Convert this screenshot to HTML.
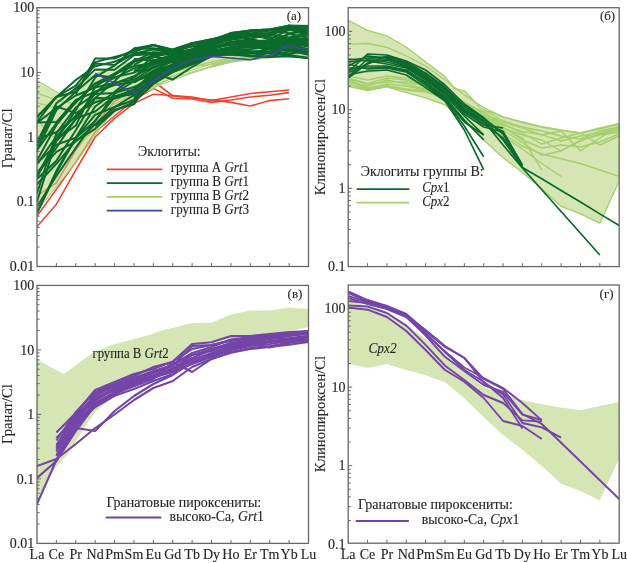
<!DOCTYPE html>
<html><head><meta charset="utf-8"><style>
html,body{margin:0;padding:0;background:#fff;width:627px;height:563px;overflow:hidden}
svg{display:block}
text{font-family:"Liberation Serif",serif;font-size:14px;fill:#262626;stroke:#262626;stroke-width:0.12px}
svg{will-change:transform}
.i{font-style:italic}
</style></head><body>
<svg width="627" height="563" viewBox="0 0 627 563">
<defs>
<clipPath id="ca"><rect x="37.0" y="7.7" width="271.5" height="258.8"/></clipPath>
<clipPath id="cb"><rect x="348.2" y="7.7" width="271.00000000000006" height="258.90000000000003"/></clipPath>
<clipPath id="cc"><rect x="37.0" y="285.4" width="271.5" height="258.0"/></clipPath>
<clipPath id="cd"><rect x="348.2" y="285.0" width="271.00000000000006" height="258.20000000000005"/></clipPath>
</defs>
<polygon points="348.2,20.4 367.6,30.3 386.9,35.8 406.3,47.3 425.6,61.7 445.0,76.5 454.4,88.3 464.3,90.8 480.4,107.7 483.7,109.5 503.1,116.8 522.4,122.7 541.8,127.0 561.1,130.3 580.5,133.0 599.8,128.8 619.2,124.7 619.2,181.3 599.8,223.2 580.5,213.8 561.1,206.4 541.8,188.7 522.4,172.5 503.1,157.7 483.7,140.0 464.3,121.0 445.0,104.9 425.6,97.9 406.3,92.6 386.9,86.8 367.6,90.6 348.2,86.4" fill="#d5e5b3" stroke="#a6cf6e" stroke-width="1.3" stroke-linejoin="round" clip-path="url(#cb)"/>
<polyline points="348.2,44.4 367.6,43.5 386.9,47.3 406.3,55.9 425.6,66.0 445.0,80.0 464.3,95.0 483.7,107.6 503.1,117.0 522.4,122.0 541.8,126.7 561.1,130.0 580.5,133.0 599.8,128.0 619.2,123.5" fill="none" stroke="#a6cf6e" stroke-width="1.4" stroke-linejoin="round" clip-path="url(#cb)"/>
<polyline points="348.2,78.0 367.6,83.7 386.9,78.0 406.3,80.0 425.6,85.0 445.0,92.0 464.3,103.0 483.7,112.0 503.1,125.0 522.4,131.5 541.8,134.7 561.1,141.0 580.5,136.0 599.8,133.0 619.2,128.0" fill="none" stroke="#a6cf6e" stroke-width="1.4" stroke-linejoin="round" clip-path="url(#cb)"/>
<polyline points="348.2,80.0 367.6,88.0 386.9,84.0 406.3,86.0 425.6,90.0 445.0,96.0 464.3,106.0 483.7,118.0 503.1,130.0 522.4,142.7 541.8,155.5 561.1,150.7 580.5,141.0 599.8,134.0 619.2,130.0" fill="none" stroke="#a6cf6e" stroke-width="1.4" stroke-linejoin="round" clip-path="url(#cb)"/>
<polyline points="348.2,82.0 367.6,86.0 386.9,80.0 406.3,84.0 425.6,89.0 445.0,97.0 464.3,108.0 483.7,121.0 503.1,134.0 522.4,146.0 541.8,154.0 561.1,158.7 580.5,163.5 599.8,170.0 619.2,176.3" fill="none" stroke="#a6cf6e" stroke-width="1.4" stroke-linejoin="round" clip-path="url(#cb)"/>
<polyline points="348.2,84.0 367.6,90.0 386.9,86.0 406.3,90.0 425.6,92.0 445.0,98.0 464.3,110.0 483.7,124.0 503.1,136.0 522.4,149.0 541.8,163.5 561.1,176.3" fill="none" stroke="#a6cf6e" stroke-width="1.4" stroke-linejoin="round" clip-path="url(#cb)"/>
<polyline points="348.2,79.0 367.6,84.0 386.9,82.0 406.3,82.0 425.6,86.0 445.0,93.0 464.3,104.0 483.7,117.0 503.1,128.0 522.4,138.0 541.8,170.0" fill="none" stroke="#a6cf6e" stroke-width="1.4" stroke-linejoin="round" clip-path="url(#cb)"/>
<polyline points="348.2,81.0 367.6,89.0 386.9,86.0 406.3,89.0 425.6,91.0 445.0,99.0 464.3,112.0 483.7,120.0 503.1,128.0 522.4,135.0 541.8,140.0 561.1,151.0 580.5,140.0 599.8,135.0 619.2,132.0" fill="none" stroke="#a6cf6e" stroke-width="1.4" stroke-linejoin="round" clip-path="url(#cb)"/>
<polyline points="348.2,70.0 367.6,72.0 386.9,70.0 406.3,72.0 425.6,80.0 445.0,90.0 464.3,102.0 483.7,114.0 503.1,122.0 522.4,128.0 541.8,135.0 561.1,131.0 580.5,150.7 599.8,138.0 619.2,126.0" fill="none" stroke="#a6cf6e" stroke-width="1.4" stroke-linejoin="round" clip-path="url(#cb)"/>
<polyline points="348.2,76.0 367.6,80.0 386.9,76.0 406.3,78.0 425.6,84.0 445.0,92.0 464.3,104.0 483.7,116.0 503.1,124.0 522.4,133.0 541.8,144.0 561.1,138.0 580.5,133.0 599.8,145.0 619.2,136.0" fill="none" stroke="#a6cf6e" stroke-width="1.4" stroke-linejoin="round" clip-path="url(#cb)"/>
<polyline points="483.7,115.0 503.1,127.0 522.4,140.0 541.8,148.0 561.1,145.0 580.5,147.0 599.8,142.0 619.2,134.0" fill="none" stroke="#a6cf6e" stroke-width="1.4" stroke-linejoin="round" clip-path="url(#cb)"/>
<polyline points="483.7,110.0 503.1,121.0 522.4,127.0 541.8,131.0 561.1,136.0 580.5,139.0 599.8,131.0 619.2,127.0" fill="none" stroke="#a6cf6e" stroke-width="1.4" stroke-linejoin="round" clip-path="url(#cb)"/>
<polyline points="348.2,72.0 367.6,54.0 386.9,55.0 406.3,61.0 425.6,70.0 445.0,85.0 464.3,104.0 483.7,117.8 503.1,134.0 522.4,167.5 541.8,178.7 561.1,190.4 580.5,202.0 599.8,213.9 619.2,225.6" fill="none" stroke="#0b6a2c" stroke-width="1.7" stroke-linejoin="round" clip-path="url(#cb)"/>
<polyline points="348.2,60.0 367.6,58.0 386.9,57.0 406.3,63.0 425.6,74.0 445.0,88.0 464.3,108.0 483.7,121.0 503.1,145.0 522.4,168.0 541.8,189.7 561.1,211.5 580.5,233.2 599.8,255.0" fill="none" stroke="#0b6a2c" stroke-width="1.7" stroke-linejoin="round" clip-path="url(#cb)"/>
<polyline points="348.2,78.0 367.6,63.0 386.9,60.0 406.3,66.0 425.6,78.0 445.0,92.0 464.3,112.0 483.7,124.0 503.1,138.0 522.4,166.0" fill="none" stroke="#0b6a2c" stroke-width="1.7" stroke-linejoin="round" clip-path="url(#cb)"/>
<polyline points="348.2,66.0 367.6,56.0 386.9,58.0 406.3,64.0 425.6,76.0 445.0,90.0 464.3,110.0 483.7,122.0 503.1,131.5 522.4,165.0" fill="none" stroke="#0b6a2c" stroke-width="1.7" stroke-linejoin="round" clip-path="url(#cb)"/>
<polyline points="348.2,59.0 367.6,61.0 386.9,64.0 406.3,68.0 425.6,80.0 445.0,95.0 464.3,116.0 483.7,134.8" fill="none" stroke="#0b6a2c" stroke-width="1.7" stroke-linejoin="round" clip-path="url(#cb)"/>
<polyline points="348.2,70.0 367.6,66.0 386.9,66.0 406.3,70.0 425.6,83.0 445.0,97.0 464.3,120.0 483.7,139.8" fill="none" stroke="#0b6a2c" stroke-width="1.7" stroke-linejoin="round" clip-path="url(#cb)"/>
<polyline points="348.2,64.0 367.6,69.0 386.9,68.0 406.3,72.0 425.6,85.0 445.0,100.0 464.3,126.0 483.7,156.8" fill="none" stroke="#0b6a2c" stroke-width="1.7" stroke-linejoin="round" clip-path="url(#cb)"/>
<polyline points="348.2,75.0 367.6,71.0 386.9,70.0 406.3,75.0 425.6,87.5 445.0,101.0 464.3,130.0 483.7,169.6" fill="none" stroke="#0b6a2c" stroke-width="1.7" stroke-linejoin="round" clip-path="url(#cb)"/>
<polyline points="348.2,62.0 367.6,60.0 386.9,62.0 406.3,67.0 425.6,79.0 445.0,93.0 464.3,114.0 483.7,127.0 503.1,132.0" fill="none" stroke="#0b6a2c" stroke-width="1.7" stroke-linejoin="round" clip-path="url(#cb)"/>
<polyline points="348.2,77.0 367.6,59.0 386.9,59.0 406.3,65.0 425.6,77.0 445.0,89.0 464.3,111.0 483.7,125.0 503.1,128.0" fill="none" stroke="#0b6a2c" stroke-width="1.7" stroke-linejoin="round" clip-path="url(#cb)"/>
<polyline points="348.2,68.0 367.6,68.0 386.9,67.0 406.3,71.0 425.6,82.0 445.0,99.0 464.3,122.0 483.7,135.0" fill="none" stroke="#0b6a2c" stroke-width="1.7" stroke-linejoin="round" clip-path="url(#cb)"/>
<polyline points="348.2,73.0 367.6,64.0 386.9,56.0 406.3,62.0 425.6,73.0 445.0,87.0 464.3,106.0 483.7,119.0 503.1,140.0 522.4,167.0" fill="none" stroke="#0b6a2c" stroke-width="1.7" stroke-linejoin="round" clip-path="url(#cb)"/>
<polyline points="37.0,226.6 56.4,204.2 75.8,170.0 95.2,137.0 114.6,118.3 134.0,103.4 153.4,94.3 172.8,95.5 192.1,97.0 211.5,100.6 230.9,97.0 250.3,93.5 269.7,91.7 289.1,90.0" fill="none" stroke="#ef4530" stroke-width="1.6" stroke-linejoin="round" clip-path="url(#ca)"/>
<polyline points="37.0,216.0 56.4,189.3 75.8,162.0 95.2,132.0 114.6,116.0 134.0,100.0 153.4,88.4 172.8,98.2 192.1,99.0 211.5,102.4 230.9,100.0 250.3,97.0 269.7,95.3 289.1,92.6" fill="none" stroke="#ef4530" stroke-width="1.6" stroke-linejoin="round" clip-path="url(#ca)"/>
<polyline points="37.0,195.7 56.4,182.9 75.8,150.0 95.2,124.0 114.6,101.4 134.0,90.0 153.4,81.0 172.8,96.0 192.1,98.0 211.5,100.0 230.9,102.4 250.3,106.0 269.7,100.6 289.1,98.8" fill="none" stroke="#ef4530" stroke-width="1.6" stroke-linejoin="round" clip-path="url(#ca)"/>
<polygon points="37.0,80.2 64.0,96.3 84.0,81.3 95.2,73.8 112.6,67.0 150.0,57.0 160.0,53.3 192.1,45.3 211.5,45.0 230.9,36.8 250.3,32.7 269.7,32.7 289.1,29.7 308.5,31.3 308.5,56.0 289.1,55.0 269.7,58.0 250.3,60.0 230.9,62.0 211.5,64.4 192.1,67.0 172.8,77.0 153.4,88.0 134.0,98.0 110.0,115.0 95.2,135.6 82.8,153.0 75.8,163.0 56.4,186.5 37.0,211.5" fill="#b9d480" fill-opacity="0.6" stroke="#a6cf6e" stroke-width="1.0" clip-path="url(#ca)"/>
<polyline points="37.0,93.0 56.4,100.0 75.8,104.0 95.2,100.0 114.6,95.0 134.0,88.0 153.4,80.0 172.8,72.0 192.1,67.0 211.5,62.0 230.9,58.0 250.3,52.0 269.7,50.0 289.1,48.0 308.5,47.0" fill="none" stroke="#a6cf6e" stroke-width="1.3" stroke-linejoin="round" clip-path="url(#ca)"/>
<polyline points="37.0,102.8 56.4,108.0 75.8,110.0 95.2,106.0 114.6,98.0 134.0,90.0 153.4,82.0 172.8,76.0 192.1,70.0 211.5,64.0 230.9,60.0 250.3,56.0 269.7,54.0 289.1,50.0 308.5,52.0" fill="none" stroke="#a6cf6e" stroke-width="1.3" stroke-linejoin="round" clip-path="url(#ca)"/>
<polyline points="37.0,112.0 56.4,122.0 75.8,126.0 95.2,114.0 114.6,104.0 134.0,94.0 153.4,86.0 172.8,78.0 192.1,72.0 211.5,66.0 230.9,61.0 250.3,57.0 269.7,55.0 289.1,52.0 308.5,50.0" fill="none" stroke="#a6cf6e" stroke-width="1.3" stroke-linejoin="round" clip-path="url(#ca)"/>
<polyline points="37.0,120.0 56.4,140.0 75.8,148.0 95.2,128.0 114.6,112.0 134.0,98.0 153.4,88.0 172.8,80.0 192.1,73.0 211.5,67.0 230.9,62.0 250.3,58.0 269.7,56.0 289.1,54.0 308.5,53.0" fill="none" stroke="#a6cf6e" stroke-width="1.3" stroke-linejoin="round" clip-path="url(#ca)"/>
<polyline points="37.0,175.8 56.4,140.1 75.8,109.9 95.2,77.4 114.6,65.3 134.0,48.5 153.4,45.0 172.8,50.3 192.1,43.5 211.5,40.8 230.9,33.1 250.3,30.4 269.7,29.5 289.1,25.5 308.5,25.9" fill="none" stroke="#0b6a2c" stroke-width="2.0" stroke-linejoin="round" clip-path="url(#ca)"/>
<polyline points="37.0,117.0 56.4,97.0 75.8,85.6 95.2,62.1 114.6,57.0 134.0,51.9 153.4,45.0 172.8,49.4 192.1,43.0 211.5,39.3 230.9,35.7 250.3,30.4 269.7,29.5 289.1,30.2 308.5,29.8" fill="none" stroke="#0b6a2c" stroke-width="2.0" stroke-linejoin="round" clip-path="url(#ca)"/>
<polyline points="37.0,150.4 56.4,110.0 75.8,91.8 95.2,63.6 114.6,65.0 134.0,53.6 153.4,52.6 172.8,52.2 192.1,43.4 211.5,39.9 230.9,33.1 250.3,30.4 269.7,29.5 289.1,26.1 308.5,29.0" fill="none" stroke="#0b6a2c" stroke-width="2.0" stroke-linejoin="round" clip-path="url(#ca)"/>
<polyline points="37.0,121.9 56.4,97.0 75.8,80.0 95.2,66.3 114.6,61.7 134.0,53.6 153.4,49.4 172.8,52.1 192.1,43.0 211.5,43.6 230.9,33.1 250.3,35.1 269.7,35.2 289.1,25.5 308.5,32.0" fill="none" stroke="#0b6a2c" stroke-width="2.0" stroke-linejoin="round" clip-path="url(#ca)"/>
<polyline points="37.0,142.6 56.4,103.3 75.8,88.4 95.2,69.4 114.6,69.8 134.0,55.2 153.4,53.9 172.8,54.6 192.1,48.9 211.5,41.5 230.9,35.8 250.3,34.8 269.7,35.9 289.1,27.4 308.5,33.1" fill="none" stroke="#0b6a2c" stroke-width="2.0" stroke-linejoin="round" clip-path="url(#ca)"/>
<polyline points="37.0,201.6 56.4,139.6 75.8,125.5 95.2,86.6 114.6,73.8 134.0,60.3 153.4,57.3 172.8,52.0 192.1,49.8 211.5,43.2 230.9,36.5 250.3,34.5 269.7,32.9 289.1,28.5 308.5,29.5" fill="none" stroke="#0b6a2c" stroke-width="2.0" stroke-linejoin="round" clip-path="url(#ca)"/>
<polyline points="37.0,193.4 56.4,133.2 75.8,107.5 95.2,93.7 114.6,75.3 134.0,61.4 153.4,52.2 172.8,54.6 192.1,50.2 211.5,43.6 230.9,38.0 250.3,33.9 269.7,39.4 289.1,29.5 308.5,33.9" fill="none" stroke="#0b6a2c" stroke-width="2.0" stroke-linejoin="round" clip-path="url(#ca)"/>
<polyline points="37.0,178.9 56.4,160.8 75.8,130.2 95.2,98.0 114.6,81.3 134.0,61.9 153.4,55.9 172.8,53.0 192.1,51.3 211.5,43.6 230.9,39.2 250.3,41.4 269.7,40.2 289.1,38.4 308.5,35.0" fill="none" stroke="#0b6a2c" stroke-width="2.0" stroke-linejoin="round" clip-path="url(#ca)"/>
<polyline points="37.0,160.5 56.4,124.9 75.8,101.9 95.2,83.3 114.6,73.7 134.0,66.0 153.4,63.3 172.8,59.1 192.1,51.0 211.5,45.4 230.9,39.5 250.3,36.5 269.7,37.3 289.1,38.3 308.5,39.9" fill="none" stroke="#0b6a2c" stroke-width="2.0" stroke-linejoin="round" clip-path="url(#ca)"/>
<polyline points="37.0,150.1 56.4,123.1 75.8,102.5 95.2,83.7 114.6,78.1 134.0,68.4 153.4,62.2 172.8,55.9 192.1,51.2 211.5,47.4 230.9,42.4 250.3,39.0 269.7,43.3 289.1,38.6 308.5,39.0" fill="none" stroke="#0b6a2c" stroke-width="2.0" stroke-linejoin="round" clip-path="url(#ca)"/>
<polyline points="37.0,117.1 56.4,97.0 75.8,91.7 95.2,75.2 114.6,77.4 134.0,72.6 153.4,64.9 172.8,57.4 192.1,53.1 211.5,48.0 230.9,44.1 250.3,40.6 269.7,43.8 289.1,41.7 308.5,41.3" fill="none" stroke="#0b6a2c" stroke-width="2.0" stroke-linejoin="round" clip-path="url(#ca)"/>
<polyline points="37.0,213.0 56.4,170.8 75.8,137.5 95.2,106.5 114.6,91.7 134.0,76.9 153.4,63.4 172.8,60.7 192.1,54.4 211.5,48.8 230.9,41.5 250.3,44.6 269.7,43.2 289.1,41.5 308.5,40.5" fill="none" stroke="#0b6a2c" stroke-width="2.0" stroke-linejoin="round" clip-path="url(#ca)"/>
<polyline points="37.0,177.2 56.4,141.1 75.8,119.4 95.2,91.6 114.6,83.4 134.0,76.1 153.4,66.9 172.8,58.8 192.1,55.2 211.5,49.2 230.9,41.7 250.3,43.7 269.7,41.9 289.1,38.0 308.5,39.6" fill="none" stroke="#0b6a2c" stroke-width="2.0" stroke-linejoin="round" clip-path="url(#ca)"/>
<polyline points="37.0,122.9 56.4,108.0 75.8,95.5 95.2,87.5 114.6,82.8 134.0,79.6 153.4,68.0 172.8,60.0 192.1,57.4 211.5,47.0 230.9,44.7 250.3,43.6 269.7,44.5 289.1,39.8 308.5,46.8" fill="none" stroke="#0b6a2c" stroke-width="2.0" stroke-linejoin="round" clip-path="url(#ca)"/>
<polyline points="37.0,122.4 56.4,122.1 75.8,99.9 95.2,92.0 114.6,85.1 134.0,81.8 153.4,73.5 172.8,64.7 192.1,55.7 211.5,51.6 230.9,46.9 250.3,45.3 269.7,43.8 289.1,45.1 308.5,46.1" fill="none" stroke="#0b6a2c" stroke-width="2.0" stroke-linejoin="round" clip-path="url(#ca)"/>
<polyline points="37.0,213.0 56.4,172.6 75.8,138.0 95.2,121.0 114.6,93.5 134.0,81.2 153.4,71.3 172.8,64.5 192.1,55.1 211.5,51.5 230.9,49.3 250.3,46.5 269.7,47.1 289.1,43.5 308.5,45.2" fill="none" stroke="#0b6a2c" stroke-width="2.0" stroke-linejoin="round" clip-path="url(#ca)"/>
<polyline points="37.0,206.5 56.4,176.0 75.8,147.9 95.2,120.3 114.6,97.4 134.0,89.2 153.4,72.4 172.8,64.3 192.1,57.0 211.5,54.0 230.9,48.0 250.3,47.1 269.7,48.7 289.1,44.0 308.5,49.4" fill="none" stroke="#0b6a2c" stroke-width="2.0" stroke-linejoin="round" clip-path="url(#ca)"/>
<polyline points="37.0,139.1 56.4,132.2 75.8,116.6 95.2,93.9 114.6,93.0 134.0,87.0 153.4,78.6 172.8,67.7 192.1,57.6 211.5,51.5 230.9,47.1 250.3,53.0 269.7,48.6 289.1,49.3 308.5,49.7" fill="none" stroke="#0b6a2c" stroke-width="2.0" stroke-linejoin="round" clip-path="url(#ca)"/>
<polyline points="37.0,173.1 56.4,147.8 75.8,118.5 95.2,111.5 114.6,96.2 134.0,91.1 153.4,74.2 172.8,65.8 192.1,60.1 211.5,53.2 230.9,49.2 250.3,52.5 269.7,51.9 289.1,46.1 308.5,49.2" fill="none" stroke="#0b6a2c" stroke-width="2.0" stroke-linejoin="round" clip-path="url(#ca)"/>
<polyline points="37.0,164.3 56.4,136.4 75.8,115.4 95.2,98.0 114.6,98.6 134.0,92.8 153.4,78.4 172.8,69.4 192.1,61.7 211.5,54.0 230.9,53.2 250.3,51.2 269.7,51.8 289.1,54.0 308.5,50.2" fill="none" stroke="#0b6a2c" stroke-width="2.0" stroke-linejoin="round" clip-path="url(#ca)"/>
<polyline points="37.0,146.0 56.4,106.4 75.8,113.2 95.2,102.3 114.6,96.4 134.0,94.3 153.4,82.3 172.8,71.7 192.1,59.9 211.5,54.8 230.9,52.2 250.3,53.2 269.7,52.6 289.1,49.8 308.5,54.9" fill="none" stroke="#0b6a2c" stroke-width="2.0" stroke-linejoin="round" clip-path="url(#ca)"/>
<polyline points="37.0,173.1 56.4,151.9 75.8,141.4 95.2,124.3 114.6,107.0 134.0,95.1 153.4,83.4 172.8,72.0 192.1,64.4 211.5,56.6 230.9,50.4 250.3,56.2 269.7,53.0 289.1,55.1 308.5,58.0" fill="none" stroke="#0b6a2c" stroke-width="2.0" stroke-linejoin="round" clip-path="url(#ca)"/>
<polyline points="37.0,163.2 56.4,144.6 75.8,137.8 95.2,114.9 114.6,107.0 134.0,100.0 153.4,79.5 172.8,72.0 192.1,61.3 211.5,54.7 230.9,53.1 250.3,52.6 269.7,53.1 289.1,56.0 308.5,58.0" fill="none" stroke="#0b6a2c" stroke-width="2.0" stroke-linejoin="round" clip-path="url(#ca)"/>
<polyline points="37.0,184.3 56.4,163.8 75.8,140.7 95.2,128.8 114.6,110.8 134.0,102.0 153.4,83.4 172.8,69.6 192.1,64.4 211.5,55.7 230.9,54.4 250.3,56.2 269.7,57.0 289.1,56.2 308.5,58.0" fill="none" stroke="#0b6a2c" stroke-width="2.0" stroke-linejoin="round" clip-path="url(#ca)"/>
<polyline points="134.0,48.5 153.4,48.5 172.8,49.8 192.1,43.8 211.5,39.3 230.9,35.6 250.3,33.5 269.7,30.7 289.1,26.8 308.5,25.8" fill="none" stroke="#0b6a2c" stroke-width="2.0" stroke-linejoin="round" clip-path="url(#ca)"/>
<polyline points="134.0,48.5 153.4,48.6 172.8,51.5 192.1,43.3 211.5,42.9 230.9,34.3 250.3,31.8 269.7,29.7 289.1,33.3 308.5,31.8" fill="none" stroke="#0b6a2c" stroke-width="2.0" stroke-linejoin="round" clip-path="url(#ca)"/>
<polyline points="134.0,64.9 153.4,54.3 172.8,50.1 192.1,46.5 211.5,43.0 230.9,35.4 250.3,38.8 269.7,34.3 289.1,29.1 308.5,35.2" fill="none" stroke="#0b6a2c" stroke-width="2.0" stroke-linejoin="round" clip-path="url(#ca)"/>
<polyline points="134.0,58.9 153.4,60.7 172.8,54.7 192.1,49.5 211.5,43.7 230.9,39.2 250.3,35.8 269.7,34.2 289.1,37.4 308.5,33.0" fill="none" stroke="#0b6a2c" stroke-width="2.0" stroke-linejoin="round" clip-path="url(#ca)"/>
<polyline points="134.0,72.5 153.4,56.7 172.8,59.9 192.1,53.2 211.5,47.1 230.9,42.5 250.3,40.6 269.7,41.5 289.1,34.0 308.5,37.7" fill="none" stroke="#0b6a2c" stroke-width="2.0" stroke-linejoin="round" clip-path="url(#ca)"/>
<polyline points="134.0,77.6 153.4,59.8 172.8,61.6 192.1,55.0 211.5,47.0 230.9,42.1 250.3,41.9 269.7,41.3 289.1,43.5 308.5,39.6" fill="none" stroke="#0b6a2c" stroke-width="2.0" stroke-linejoin="round" clip-path="url(#ca)"/>
<polyline points="134.0,70.9 153.4,62.0 172.8,62.4 192.1,57.3 211.5,48.9 230.9,44.6 250.3,44.7 269.7,46.2 289.1,39.9 308.5,44.2" fill="none" stroke="#0b6a2c" stroke-width="2.0" stroke-linejoin="round" clip-path="url(#ca)"/>
<polyline points="134.0,82.7 153.4,70.6 172.8,61.0 192.1,54.5 211.5,49.7 230.9,48.8 250.3,45.5 269.7,47.4 289.1,43.1 308.5,42.6" fill="none" stroke="#0b6a2c" stroke-width="2.0" stroke-linejoin="round" clip-path="url(#ca)"/>
<polyline points="134.0,80.4 153.4,75.8 172.8,66.7 192.1,57.5 211.5,52.7 230.9,49.2 250.3,51.3 269.7,52.3 289.1,46.5 308.5,52.7" fill="none" stroke="#0b6a2c" stroke-width="2.0" stroke-linejoin="round" clip-path="url(#ca)"/>
<polyline points="134.0,97.3 153.4,76.8 172.8,69.4 192.1,59.9 211.5,52.7 230.9,48.6 250.3,53.3 269.7,48.9 289.1,46.4 308.5,53.8" fill="none" stroke="#0b6a2c" stroke-width="2.0" stroke-linejoin="round" clip-path="url(#ca)"/>
<polyline points="134.0,99.1 153.4,79.0 172.8,71.1 192.1,59.2 211.5,53.7 230.9,50.6 250.3,52.4 269.7,51.2 289.1,48.9 308.5,52.6" fill="none" stroke="#0b6a2c" stroke-width="2.0" stroke-linejoin="round" clip-path="url(#ca)"/>
<polyline points="134.0,102.0 153.4,84.0 172.8,72.0 192.1,63.4 211.5,55.1 230.9,54.4 250.3,55.3 269.7,57.0 289.1,51.2 308.5,54.2" fill="none" stroke="#0b6a2c" stroke-width="2.0" stroke-linejoin="round" clip-path="url(#ca)"/>
<polyline points="75.8,94.0 95.2,58.6 114.6,58.6 134.0,50.0 153.4,45.0 172.8,52.0 192.1,46.0 211.5,42.0 230.9,38.0 250.3,36.0 269.7,33.0 289.1,26.0 308.5,27.0" fill="none" stroke="#0b6a2c" stroke-width="2.0" stroke-linejoin="round" clip-path="url(#ca)"/>
<polyline points="95.2,126.0 114.6,109.8 134.0,104.4 153.4,73.0 172.8,79.5 192.1,67.0 211.5,56.0 230.9,50.0 250.3,49.0 269.7,47.0 289.1,44.0 308.5,45.0" fill="none" stroke="#0b6a2c" stroke-width="2.0" stroke-linejoin="round" clip-path="url(#ca)"/>
<polyline points="95.2,73.2 114.6,83.0 134.0,93.8 153.4,81.0 172.8,68.0 192.1,60.0 211.5,56.4 230.9,58.0 250.3,59.7 269.7,55.3 289.1,45.5 308.5,50.9" fill="none" stroke="#3b4a9a" stroke-width="1.6" stroke-linejoin="round" clip-path="url(#ca)"/>
<polygon points="37.0,359.7 64.0,374.0 84.0,359.0 95.2,351.5 112.6,344.7 150.0,334.7 160.0,331.0 192.1,323.0 211.5,322.7 230.9,314.5 250.3,310.4 269.7,310.4 289.1,307.4 308.5,309.0 308.5,327.0 289.1,331.3 250.3,335.7 211.5,342.4 173.0,360.0 134.0,378.0 106.0,403.0 95.2,412.0 86.5,424.4 68.7,452.8 55.5,468.0 47.4,480.0 37.0,501.0" fill="#d5e5b3" clip-path="url(#cc)"/>
<polyline points="37.0,466.0 56.4,459.0 75.8,444.0 95.2,428.0 114.6,414.5 134.0,400.0 153.4,388.0 172.8,381.0 192.1,367.0 211.5,359.0 230.9,352.8 250.3,349.0 269.7,347.0 289.1,344.7 308.5,342.0" fill="none" stroke="#7445a8" stroke-width="2.1" stroke-linejoin="round" clip-path="url(#cc)"/>
<polyline points="37.0,504.0 56.4,460.0 75.8,428.0 95.2,401.0 114.6,388.0 134.0,378.0 153.4,371.0 172.8,365.0 192.1,355.0 211.5,349.0 230.9,343.0 250.3,340.0 269.7,338.0 289.1,335.0 308.5,333.0" fill="none" stroke="#7445a8" stroke-width="2.1" stroke-linejoin="round" clip-path="url(#cc)"/>
<polyline points="37.0,478.0 56.4,461.0 75.8,431.0 95.2,405.0 114.6,392.0 134.0,384.0 153.4,377.0 172.8,370.0 192.1,360.0 211.5,354.0 230.9,348.0 250.3,345.0 269.7,342.0 289.1,339.0 308.5,337.0" fill="none" stroke="#7445a8" stroke-width="2.1" stroke-linejoin="round" clip-path="url(#cc)"/>
<polyline points="56.4,432.5 75.8,413.0 95.2,390.0 114.6,382.0 134.0,374.0 153.4,369.0 172.8,361.6 192.1,344.0 211.5,342.3 230.9,336.1 250.3,336.0 269.7,334.0 289.1,332.0 308.5,331.0" fill="none" stroke="#7445a8" stroke-width="2.1" stroke-linejoin="round" clip-path="url(#cc)"/>
<polyline points="56.4,440.5 75.8,412.0 95.2,392.0 114.6,384.0 134.0,376.0 153.4,367.0 172.8,362.0 192.1,349.0 211.5,345.0 230.9,340.0 250.3,338.0 269.7,336.0 289.1,333.0 308.5,333.0" fill="none" stroke="#7445a8" stroke-width="2.1" stroke-linejoin="round" clip-path="url(#cc)"/>
<polyline points="56.4,448.5 75.8,416.0 95.2,396.0 114.6,386.0 134.0,378.0 153.4,372.0 172.8,365.0 192.1,353.0 211.5,347.0 230.9,339.6 250.3,337.0 269.7,335.0 289.1,334.0 308.5,332.0" fill="none" stroke="#7445a8" stroke-width="2.1" stroke-linejoin="round" clip-path="url(#cc)"/>
<polyline points="56.4,451.7 75.8,420.0 95.2,400.0 114.6,389.0 134.0,381.0 153.4,375.0 172.8,368.0 192.1,358.0 211.5,350.0 230.9,345.0 250.3,341.0 269.7,339.0 289.1,338.0 308.5,336.0" fill="none" stroke="#7445a8" stroke-width="2.1" stroke-linejoin="round" clip-path="url(#cc)"/>
<polyline points="56.4,455.0 75.8,428.0 95.2,431.0 114.6,411.0 134.0,396.0 153.4,384.0 172.8,375.0 192.1,362.0 211.5,356.0 230.9,350.0 250.3,346.0 269.7,344.0 289.1,341.0 308.5,339.0" fill="none" stroke="#7445a8" stroke-width="2.1" stroke-linejoin="round" clip-path="url(#cc)"/>
<polyline points="56.4,461.0 75.8,421.0 95.2,405.0 114.6,394.0 134.0,386.0 153.4,379.0 172.8,362.0 192.1,372.0 211.5,359.0 230.9,352.0 250.3,348.0 269.7,346.0 289.1,343.0 308.5,340.0" fill="none" stroke="#7445a8" stroke-width="2.1" stroke-linejoin="round" clip-path="url(#cc)"/>
<polyline points="56.4,445.0 75.8,414.0 95.2,398.0 114.6,390.0 134.0,383.0 153.4,376.0 172.8,369.0 192.1,355.0 211.5,351.0 230.9,343.0 250.3,342.0 269.7,339.0 289.1,336.0 308.5,334.0" fill="none" stroke="#7445a8" stroke-width="2.1" stroke-linejoin="round" clip-path="url(#cc)"/>
<polyline points="56.4,438.0 75.8,418.0 95.2,394.0 114.6,385.0 134.0,380.0 153.4,373.0 172.8,366.0 192.1,346.0 211.5,345.0 230.9,341.0 250.3,339.0 269.7,337.0 289.1,335.0 308.5,331.0" fill="none" stroke="#7445a8" stroke-width="2.1" stroke-linejoin="round" clip-path="url(#cc)"/>
<polyline points="56.4,450.0 75.8,425.0 95.2,407.0 114.6,395.8 134.0,389.0 153.4,381.0 172.8,374.0 192.1,363.0 211.5,355.0 230.9,347.0 250.3,344.0 269.7,347.5 289.1,342.0 308.5,341.0" fill="none" stroke="#7445a8" stroke-width="2.1" stroke-linejoin="round" clip-path="url(#cc)"/>
<polyline points="56.4,456.0 75.8,423.0 95.2,403.0 114.6,392.0 134.0,386.0 153.4,378.0 172.8,371.0 192.1,360.0 211.5,353.0 230.9,346.0 250.3,343.0 269.7,341.0 289.1,339.0 308.5,336.0" fill="none" stroke="#7445a8" stroke-width="2.1" stroke-linejoin="round" clip-path="url(#cc)"/>
<polyline points="56.4,447.0 75.8,417.0 95.2,399.0 114.6,388.0 134.0,383.0 153.4,377.0 172.8,372.0 192.1,364.0 211.5,357.0 230.9,350.0 250.3,345.0 269.7,342.0 289.1,340.0 308.5,338.0" fill="none" stroke="#7445a8" stroke-width="2.1" stroke-linejoin="round" clip-path="url(#cc)"/>
<polygon points="348.2,297.7 367.6,307.6 386.9,313.1 406.3,324.6 425.6,339.0 445.0,353.8 454.4,365.6 464.3,368.1 480.4,385.0 483.7,386.8 503.1,394.1 522.4,400.0 541.8,404.3 561.1,407.6 580.5,410.3 599.8,406.1 619.2,402.0 619.2,458.6 599.8,500.5 580.5,491.1 561.1,483.7 541.8,466.0 522.4,449.8 503.1,435.0 483.7,417.3 464.3,398.3 445.0,382.2 425.6,375.2 406.3,369.9 386.9,364.1 367.6,367.9 348.2,363.7" fill="#d5e5b3" clip-path="url(#cd)"/>
<polyline points="348.2,291.4 367.6,300.0 386.9,306.0 406.3,314.0 425.6,331.0 445.0,347.0 464.3,358.0 483.7,379.0 503.1,389.0 522.4,414.0 541.8,424.0 561.1,442.8 580.5,461.5 599.8,480.2 619.2,499.0" fill="none" stroke="#7445a8" stroke-width="1.9" stroke-linejoin="round" clip-path="url(#cd)"/>
<polyline points="348.2,295.8 367.6,302.2 386.9,307.0 406.3,315.0 425.6,330.0 445.0,346.0 464.3,357.7 483.7,382.6 503.1,394.4 522.4,423.0 541.8,427.4 561.1,437.7" fill="none" stroke="#7445a8" stroke-width="1.9" stroke-linejoin="round" clip-path="url(#cd)"/>
<polyline points="348.2,298.0 367.6,304.0 386.9,309.0 406.3,317.0 425.6,334.0 445.0,351.5 464.3,367.5 483.7,378.0 503.1,388.0 522.4,403.0 541.8,420.4" fill="none" stroke="#7445a8" stroke-width="1.9" stroke-linejoin="round" clip-path="url(#cd)"/>
<polyline points="348.2,305.4 367.6,306.5 386.9,313.0 406.3,325.6 425.6,344.8 445.0,365.7 464.3,380.0 483.7,395.0 503.1,403.0 522.4,420.4 541.8,421.6" fill="none" stroke="#7445a8" stroke-width="1.9" stroke-linejoin="round" clip-path="url(#cd)"/>
<polyline points="348.2,307.5 367.6,309.7 386.9,317.0 406.3,331.0 425.6,350.0 445.0,370.0 464.3,381.7 483.7,398.0 503.1,421.0 522.4,426.0 541.8,439.0" fill="none" stroke="#7445a8" stroke-width="1.9" stroke-linejoin="round" clip-path="url(#cd)"/>
<polyline points="348.2,301.0 367.6,303.0 386.9,306.0 406.3,316.0 425.6,333.0 445.0,352.0 464.3,370.0 483.7,381.7 503.1,398.0 522.4,428.5" fill="none" stroke="#7445a8" stroke-width="1.9" stroke-linejoin="round" clip-path="url(#cd)"/>
<polyline points="348.2,293.0 367.6,301.0 386.9,308.0 406.3,316.9 425.6,335.5 445.0,356.8 464.3,371.0 483.7,385.0 503.1,392.0 522.4,414.6 541.8,420.0" fill="none" stroke="#7445a8" stroke-width="1.9" stroke-linejoin="round" clip-path="url(#cd)"/>
<path d="M37.00 247.02h2.6 M37.00 235.63h2.6 M37.00 227.55h2.6 M37.00 221.28h2.6 M37.00 216.15h2.6 M37.00 211.82h2.6 M37.00 208.07h2.6 M37.00 204.76h2.6 M37.00 201.80h4 M37.00 182.32h2.6 M37.00 170.93h2.6 M37.00 162.85h2.6 M37.00 156.58h2.6 M37.00 151.45h2.6 M37.00 147.12h2.6 M37.00 143.37h2.6 M37.00 140.06h2.6 M37.00 137.10h4 M37.00 117.62h2.6 M37.00 106.23h2.6 M37.00 98.15h2.6 M37.00 91.88h2.6 M37.00 86.75h2.6 M37.00 82.42h2.6 M37.00 78.67h2.6 M37.00 75.36h2.6 M37.00 72.40h4 M37.00 52.92h2.6 M37.00 41.53h2.6 M37.00 33.45h2.6 M37.00 27.18h2.6 M37.00 22.05h2.6 M37.00 17.72h2.6 M37.00 13.97h2.6 M37.00 10.66h2.6 M56.39 266.50v-3.4 M75.79 266.50v-3.4 M95.18 266.50v-3.4 M114.57 266.50v-3.4 M133.96 266.50v-3.4 M153.36 266.50v-3.4 M172.75 266.50v-3.4 M192.14 266.50v-3.4 M211.54 266.50v-3.4 M230.93 266.50v-3.4 M250.32 266.50v-3.4 M269.71 266.50v-3.4 M289.11 266.50v-3.4" stroke="#666" stroke-width="1" fill="none"/>
<rect x="37.0" y="7.7" width="271.50" height="258.80" fill="none" stroke="#666" stroke-width="1.3"/>
<text x="34.20" y="12.30" text-anchor="end">100</text>
<text x="34.20" y="77.00" text-anchor="end">10</text>
<text x="34.20" y="141.70" text-anchor="end">1</text>
<text x="34.20" y="206.40" text-anchor="end">0.1</text>
<text x="34.20" y="271.10" text-anchor="end">0.01</text>
<path d="M348.20 243.20h2.6 M348.20 229.38h2.6 M348.20 219.57h2.6 M348.20 211.96h2.6 M348.20 205.75h2.6 M348.20 200.49h2.6 M348.20 195.94h2.6 M348.20 191.92h2.6 M348.20 188.33h4 M348.20 164.70h2.6 M348.20 150.88h2.6 M348.20 141.07h2.6 M348.20 133.46h2.6 M348.20 127.25h2.6 M348.20 121.99h2.6 M348.20 117.44h2.6 M348.20 113.42h2.6 M348.20 109.83h4 M348.20 86.20h2.6 M348.20 72.38h2.6 M348.20 62.57h2.6 M348.20 54.96h2.6 M348.20 48.75h2.6 M348.20 43.49h2.6 M348.20 38.94h2.6 M348.20 34.92h2.6 M348.20 31.33h4 M367.56 266.60v-3.4 M386.91 266.60v-3.4 M406.27 266.60v-3.4 M425.63 266.60v-3.4 M444.99 266.60v-3.4 M464.34 266.60v-3.4 M483.70 266.60v-3.4 M503.06 266.60v-3.4 M522.41 266.60v-3.4 M541.77 266.60v-3.4 M561.13 266.60v-3.4 M580.49 266.60v-3.4 M599.84 266.60v-3.4" stroke="#666" stroke-width="1" fill="none"/>
<rect x="348.2" y="7.7" width="271.00" height="258.90" fill="none" stroke="#666" stroke-width="1.3"/>
<text x="345.40" y="35.93" text-anchor="end">100</text>
<text x="345.40" y="114.43" text-anchor="end">10</text>
<text x="345.40" y="192.93" text-anchor="end">1</text>
<text x="345.40" y="271.43" text-anchor="end">0.1</text>
<path d="M37.00 523.98h2.6 M37.00 512.63h2.6 M37.00 504.57h2.6 M37.00 498.32h2.6 M37.00 493.21h2.6 M37.00 488.89h2.6 M37.00 485.15h2.6 M37.00 481.85h2.6 M37.00 478.90h4 M37.00 459.48h2.6 M37.00 448.13h2.6 M37.00 440.07h2.6 M37.00 433.82h2.6 M37.00 428.71h2.6 M37.00 424.39h2.6 M37.00 420.65h2.6 M37.00 417.35h2.6 M37.00 414.40h4 M37.00 394.98h2.6 M37.00 383.63h2.6 M37.00 375.57h2.6 M37.00 369.32h2.6 M37.00 364.21h2.6 M37.00 359.89h2.6 M37.00 356.15h2.6 M37.00 352.85h2.6 M37.00 349.90h4 M37.00 330.48h2.6 M37.00 319.13h2.6 M37.00 311.07h2.6 M37.00 304.82h2.6 M37.00 299.71h2.6 M37.00 295.39h2.6 M37.00 291.65h2.6 M37.00 288.35h2.6 M56.39 543.40v-3.4 M75.79 543.40v-3.4 M95.18 543.40v-3.4 M114.57 543.40v-3.4 M133.96 543.40v-3.4 M153.36 543.40v-3.4 M172.75 543.40v-3.4 M192.14 543.40v-3.4 M211.54 543.40v-3.4 M230.93 543.40v-3.4 M250.32 543.40v-3.4 M269.71 543.40v-3.4 M289.11 543.40v-3.4" stroke="#666" stroke-width="1" fill="none"/>
<rect x="37.0" y="285.4" width="271.50" height="258.00" fill="none" stroke="#666" stroke-width="1.3"/>
<text x="34.20" y="290.00" text-anchor="end">100</text>
<text x="34.20" y="354.50" text-anchor="end">10</text>
<text x="34.20" y="419.00" text-anchor="end">1</text>
<text x="34.20" y="483.50" text-anchor="end">0.1</text>
<text x="34.20" y="548.00" text-anchor="end">0.01</text>
<path d="M348.20 520.50h2.6 M348.20 506.68h2.6 M348.20 496.87h2.6 M348.20 489.26h2.6 M348.20 483.05h2.6 M348.20 477.79h2.6 M348.20 473.24h2.6 M348.20 469.22h2.6 M348.20 465.63h4 M348.20 442.00h2.6 M348.20 428.18h2.6 M348.20 418.37h2.6 M348.20 410.76h2.6 M348.20 404.55h2.6 M348.20 399.29h2.6 M348.20 394.74h2.6 M348.20 390.72h2.6 M348.20 387.13h4 M348.20 363.50h2.6 M348.20 349.68h2.6 M348.20 339.87h2.6 M348.20 332.26h2.6 M348.20 326.05h2.6 M348.20 320.79h2.6 M348.20 316.24h2.6 M348.20 312.22h2.6 M348.20 308.63h4 M367.56 543.20v-3.4 M386.91 543.20v-3.4 M406.27 543.20v-3.4 M425.63 543.20v-3.4 M444.99 543.20v-3.4 M464.34 543.20v-3.4 M483.70 543.20v-3.4 M503.06 543.20v-3.4 M522.41 543.20v-3.4 M541.77 543.20v-3.4 M561.13 543.20v-3.4 M580.49 543.20v-3.4 M599.84 543.20v-3.4" stroke="#666" stroke-width="1" fill="none"/>
<rect x="348.2" y="285.0" width="271.00" height="258.20" fill="none" stroke="#666" stroke-width="1.3"/>
<text x="345.40" y="313.23" text-anchor="end">100</text>
<text x="345.40" y="391.73" text-anchor="end">10</text>
<text x="345.40" y="470.23" text-anchor="end">1</text>
<text x="345.40" y="548.73" text-anchor="end">0.1</text>
<text x="37.00" y="559" text-anchor="middle">La</text>
<text x="56.39" y="559" text-anchor="middle">Ce</text>
<text x="75.79" y="559" text-anchor="middle">Pr</text>
<text x="95.18" y="559" text-anchor="middle">Nd</text>
<text x="114.57" y="559" text-anchor="middle">Pm</text>
<text x="133.96" y="559" text-anchor="middle">Sm</text>
<text x="153.36" y="559" text-anchor="middle">Eu</text>
<text x="172.75" y="559" text-anchor="middle">Gd</text>
<text x="192.14" y="559" text-anchor="middle">Tb</text>
<text x="211.54" y="559" text-anchor="middle">Dy</text>
<text x="230.93" y="559" text-anchor="middle">Ho</text>
<text x="250.32" y="559" text-anchor="middle">Er</text>
<text x="269.71" y="559" text-anchor="middle">Tm</text>
<text x="289.11" y="559" text-anchor="middle">Yb</text>
<text x="308.50" y="559" text-anchor="middle">Lu</text>
<text x="348.20" y="559" text-anchor="middle">La</text>
<text x="367.56" y="559" text-anchor="middle">Ce</text>
<text x="386.91" y="559" text-anchor="middle">Pr</text>
<text x="406.27" y="559" text-anchor="middle">Nd</text>
<text x="425.63" y="559" text-anchor="middle">Pm</text>
<text x="444.99" y="559" text-anchor="middle">Sm</text>
<text x="464.34" y="559" text-anchor="middle">Eu</text>
<text x="483.70" y="559" text-anchor="middle">Gd</text>
<text x="503.06" y="559" text-anchor="middle">Tb</text>
<text x="522.41" y="559" text-anchor="middle">Dy</text>
<text x="541.77" y="559" text-anchor="middle">Ho</text>
<text x="561.13" y="559" text-anchor="middle">Er</text>
<text x="580.49" y="559" text-anchor="middle">Tm</text>
<text x="599.84" y="559" text-anchor="middle">Yb</text>
<text x="619.20" y="559" text-anchor="middle">Lu</text>
<text x="301.2" y="19.8" text-anchor="end" style="font-size:13px">(а)</text>
<text x="615.2" y="19.8" text-anchor="end" style="font-size:13px">(б)</text>
<text x="302.4" y="297.8" text-anchor="end" style="font-size:13px">(в)</text>
<text x="613.6" y="297.8" text-anchor="end" style="font-size:13px">(г)</text>
<text transform="translate(12,138.4) rotate(-90)" text-anchor="middle" style="font-size:14.7px">Гранат/Cl</text>
<text transform="translate(324.5,137) rotate(-90)" text-anchor="middle" style="font-size:14.7px">Клинопироксен/Cl</text>
<text transform="translate(12,414) rotate(-90)" text-anchor="middle" style="font-size:14.7px">Гранат/Cl</text>
<text transform="translate(324.5,414) rotate(-90)" text-anchor="middle" style="font-size:14.7px">Клинопироксен/Cl</text>
<text x="138" y="155.8">Эклогиты:</text>
<path d="M106.8 169.40H162.4" stroke="#ef4530" stroke-width="1.8"/>
<text x="170.8" y="172.40" textLength="78.2" lengthAdjust="spacingAndGlyphs">группа А <tspan class="i">Grt</tspan>1</text>
<path d="M106.8 183.15H162.4" stroke="#0b6a2c" stroke-width="1.8"/>
<text x="170.8" y="186.15" textLength="78.2" lengthAdjust="spacingAndGlyphs">группа В <tspan class="i">Grt</tspan>1</text>
<path d="M106.8 196.90H162.4" stroke="#a6cf6e" stroke-width="1.8"/>
<text x="170.8" y="199.90" textLength="78.2" lengthAdjust="spacingAndGlyphs">группа В <tspan class="i">Grt</tspan>2</text>
<path d="M106.8 210.65H162.4" stroke="#3b4a9a" stroke-width="1.8"/>
<text x="170.8" y="213.65" textLength="78.2" lengthAdjust="spacingAndGlyphs">группа В <tspan class="i">Grt</tspan>3</text>
<text x="360.7" y="176.2">Эклогиты группы В:</text>
<path d="M356.7 189.2H409.2" stroke="#0b6a2c" stroke-width="1.8"/>
<path d="M356.7 202.6H409.2" stroke="#a6cf6e" stroke-width="1.8"/>
<text x="422.2" y="191.8" class="i" textLength="27.4" lengthAdjust="spacingAndGlyphs">Cpx<tspan style="font-style:normal">1</tspan></text>
<text x="422.2" y="205.9" class="i" textLength="27.4" lengthAdjust="spacingAndGlyphs">Cpx<tspan style="font-style:normal">2</tspan></text>
<text x="106.4" y="506.7">Гранатовые пироксениты:</text>
<path d="M105.8 517.5H161.4" stroke="#7445a8" stroke-width="1.8"/>
<text x="169.6" y="521" textLength="94.4" lengthAdjust="spacingAndGlyphs">высоко-Са, <tspan class="i">Grt</tspan>1</text>
<text x="358" y="508.7">Гранатовые пироксениты:</text>
<path d="M355.7 521H408.9" stroke="#7445a8" stroke-width="1.8"/>
<text x="421.8" y="523.9" textLength="97.6" lengthAdjust="spacingAndGlyphs">высоко-Са, <tspan class="i">Cpx</tspan>1</text>
<text x="92.4" y="358.3" textLength="76.2" lengthAdjust="spacingAndGlyphs">группа В <tspan class="i">Grt</tspan>2</text>
<text x="368.4" y="353" class="i" textLength="28.2" lengthAdjust="spacingAndGlyphs">Cpx2</text>
</svg>
</body></html>
